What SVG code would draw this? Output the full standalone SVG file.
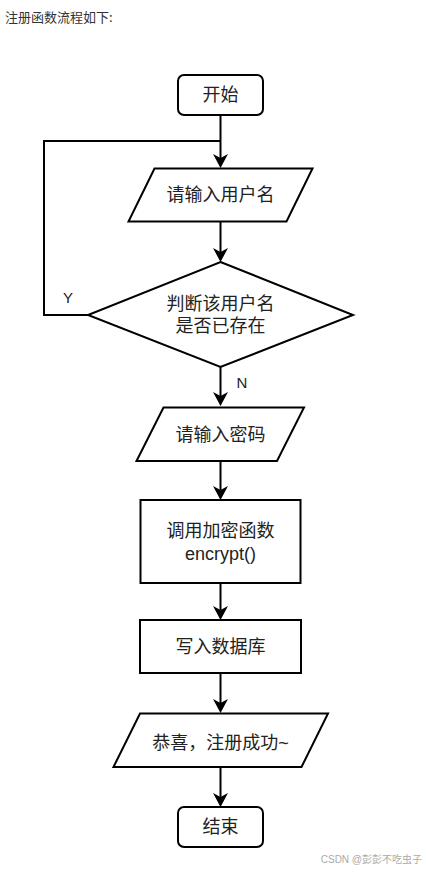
<svg xmlns="http://www.w3.org/2000/svg" width="426" height="872" viewBox="0 0 426 872">
<style>
.shape{fill:#fff;stroke:#000;stroke-width:2}
.conn{fill:none;stroke:#000;stroke-width:2}
.cjk{font-family:"Liberation Sans","Noto Sans CJK SC",sans-serif;font-size:18px;fill:#222;text-anchor:middle;dominant-baseline:central}
.lbl{font-family:"Liberation Sans",sans-serif;font-size:15px;fill:#222;text-anchor:middle;dominant-baseline:central}
</style>
<defs>
<marker id="arr" markerUnits="userSpaceOnUse" markerWidth="16" markerHeight="16" refX="4" refY="7.5" orient="auto">
<path d="M0,0 L14,7.5 L0,15 L4,7.5 Z" fill="#000"/>
</marker>
</defs>
<rect width="426" height="872" fill="#fff"/>
<text x="5" y="16" font-family="'Noto Sans CJK SC',sans-serif" font-size="13" fill="#333" dominant-baseline="central">注册函数流程如下:</text>
<g id="connectors">
<path class="conn" d="M220.5,115 V158" marker-end="url(#arr)"/>
<path class="conn" d="M88,315 H44 V141 H220.5"/>
<path class="conn" d="M220.5,222 V252" marker-end="url(#arr)"/>
<path class="conn" d="M220.5,367 V396" marker-end="url(#arr)"/>
<path class="conn" d="M220.5,461 V490" marker-end="url(#arr)"/>
<path class="conn" d="M220.5,583 V610" marker-end="url(#arr)"/>
<path class="conn" d="M220.5,673 V703" marker-end="url(#arr)"/>
<path class="conn" d="M220.5,767 V797" marker-end="url(#arr)"/>
<text class="lbl" x="68" y="297">Y</text>
<text class="lbl" x="242" y="382">N</text>
</g>
<g id="start">
<rect class="shape" x="178" y="75" width="85" height="40" rx="6"/>
<text class="cjk" x="220.5" y="95">开始</text>
</g>
<g id="input-username">
<polygon class="shape" points="154.5,168.5 312.5,168.5 286.5,221.5 128.5,221.5"/>
<text class="cjk" x="220.5" y="195">请输入用户名</text>
</g>
<g id="check-username">
<polygon class="shape" points="220.5,262 353,315 220.5,367 88,315"/>
<text class="cjk" x="220.5" y="304">判断该用户名</text>
<text class="cjk" x="220.5" y="326">是否已存在</text>
</g>
<g id="input-password">
<polygon class="shape" points="163.5,407.5 304,407.5 277,461 136.5,461"/>
<text class="cjk" x="220.5" y="434.5">请输入密码</text>
</g>
<g id="encrypt">
<rect class="shape" x="140.5" y="500" width="160" height="83"/>
<text class="cjk" x="220.5" y="531">调用加密函数</text>
<text class="cjk" x="220.5" y="554">encrypt()</text>
</g>
<g id="write-db">
<rect class="shape" x="140" y="620" width="161" height="53"/>
<text class="cjk" x="220.5" y="646.5">写入数据库</text>
</g>
<g id="success">
<polygon class="shape" points="140,713.5 328,713.5 301.5,767 113.5,767"/>
<text class="cjk" x="220.5" y="743">恭喜，注册成功~</text>
</g>
<g id="end">
<rect class="shape" x="178" y="807" width="85" height="40" rx="6"/>
<text class="cjk" x="220.5" y="827">结束</text>
</g>
<text x="422" y="859" font-family="'Liberation Sans','Noto Sans CJK SC',sans-serif" font-size="10" fill="#aaa" text-anchor="end" dominant-baseline="central">CSDN @彭彭不吃虫子</text>
</svg>
